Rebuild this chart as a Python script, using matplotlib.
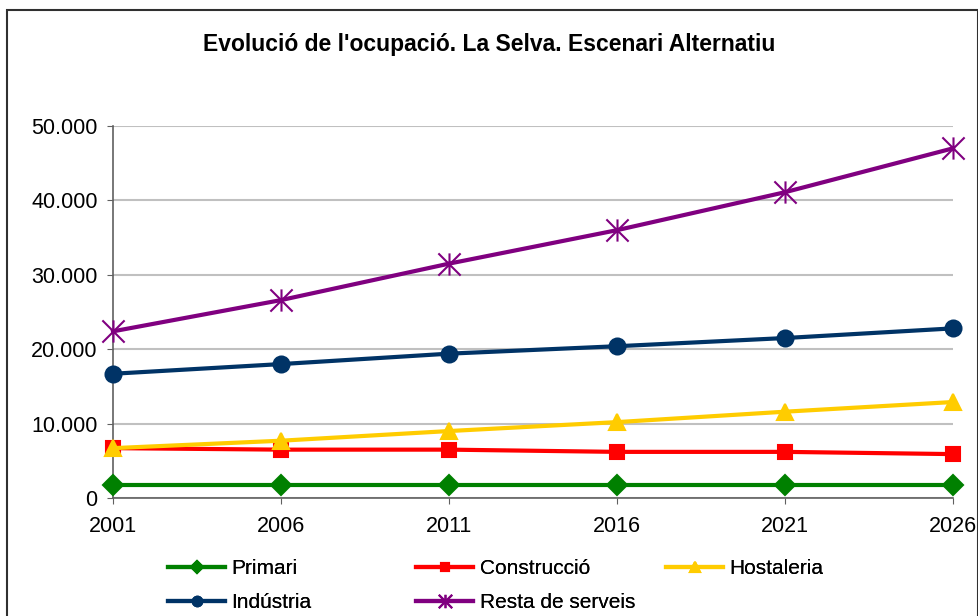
import matplotlib
matplotlib.use("Agg")
import matplotlib.pyplot as plt
from matplotlib.patches import Rectangle
from matplotlib.path import Path
from matplotlib.ticker import FuncFormatter

plt.rcParams['font.family'] = ['Liberation Sans', 'DejaVu Sans']

years = ['2001', '2006', '2011', '2016', '2021', '2026']
primari = [1800, 1800, 1800, 1800, 1800, 1800]
construccio = [6700, 6500, 6500, 6200, 6200, 5900]
hostaleria = [6700, 7700, 9000, 10200, 11600, 12900]
industria = [16700, 18000, 19400, 20400, 21500, 22800]
resta_serveis = [22400, 26600, 31500, 36000, 41100, 47000]

# asterisk marker: vertical stroke plus an X
star = Path([(0, -1), (0, 1), (-1, -1), (1, 1), (-1, 1), (1, -1)],
            [Path.MOVETO, Path.LINETO, Path.MOVETO, Path.LINETO, Path.MOVETO, Path.LINETO])

series = [
    ('Primari', primari, '#008000', 'D', 10),
    ('Construcció', construccio, '#FF0000', 's', 10),
    ('Hostaleria', hostaleria, '#FFCC00', '^', 12),
    ('Indústria', industria, '#003366', 'o', 11.5),
    ('Resta de serveis', resta_serveis, '#800080', star, 16),
]

fig = plt.figure(figsize=(9.79, 6.16), dpi=100)
ax = fig.add_axes([113 / 979, 1 - 498 / 616, (953 - 113) / 979, (498 - 126) / 616])

x = list(range(len(years)))
handles = []
for name, vals, col, mk, ms in series:
    h, = ax.plot(x, vals, color=col, lw=3, marker=mk, markersize=ms,
                 markerfacecolor=col, markeredgecolor=col, markeredgewidth=1.5,
                 label=name, clip_on=False, zorder=3)
    handles.append(h)

ax.set_xlim(0, len(years) - 1)
ax.set_ylim(0, 50000)
ax.set_xticks(x)
ax.set_xticklabels(years)
ax.set_yticks(range(0, 50001, 10000))
ax.yaxis.set_major_formatter(FuncFormatter(lambda v, p: f"{int(v):,}".replace(',', '.')))
ax.grid(axis='y', color='#C0C0C0', lw=1.5, zorder=0)
for s in ['top', 'right']:
    ax.spines[s].set_visible(False)
for s in ['left', 'bottom']:
    ax.spines[s].set_color('#606060')
    ax.spines[s].set_linewidth(1.2)
ax.tick_params(axis='both', direction='out', length=4.5, color='#606060',
               labelsize=15.5, labelcolor='black')
ax.tick_params(axis='y', pad=6.5)
ax.tick_params(axis='x', pad=8.5)

fig.text(0.5, 1 - 44 / 616, "Evolució de l'ocupació. La Selva. Escenari Alternatiu",
         ha='center', va='center', fontsize=16.5, fontweight='bold')

# legend entries laid out in rows of three
legend_pos = [(168, 569), (416, 569), (666, 569), (168, 603), (416, 603)]
for h, (px, py) in zip(handles, legend_pos):
    lg = fig.legend(handles=[h], loc='center left',
                    bbox_to_anchor=(px / 979, 1 - py / 616),
                    frameon=False, fontsize=15, markerscale=0.6,
                    handlelength=2.75, handletextpad=0.3,
                    borderpad=0, borderaxespad=0)
    fig.add_artist(lg)

fig.add_artist(Rectangle((7 / 979, -0.05), (978 - 7) / 979, 1 - 10 / 616 + 0.05,
                         transform=fig.transFigure, fill=False,
                         edgecolor='#303030', lw=1.5, clip_on=False))

fig.savefig('out.png', dpi=100)
